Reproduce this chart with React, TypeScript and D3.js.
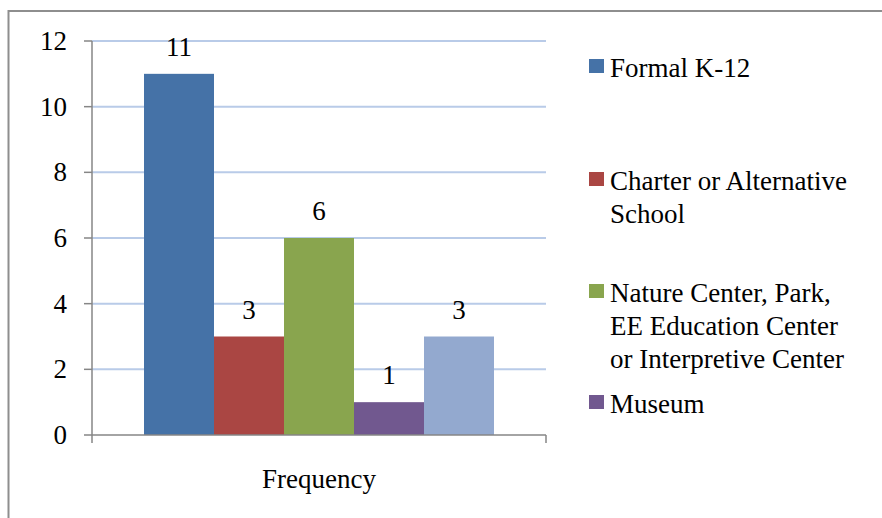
import * as d3 from 'd3';
import React, { useEffect, useRef } from 'react';

const categories = [
  'Formal K-12',
  'Charter or Alternative School',
  'Nature Center, Park, EE Education Center or Interpretive Center',
  'Museum',
  'Other',
];
const values = [11, 3, 6, 1, 3];
const colors = ['#4572A7', '#AA4643', '#89A54E', '#71588F', '#93A9CF'];
const yTicks = [0, 2, 4, 6, 8, 10, 12];
const xLabel = 'Frequency';

// legend is cut off in the source after the fourth entry
const legendLines = [
  ['Formal K-12'],
  ['Charter or Alternative', 'School'],
  ['Nature Center, Park,', 'EE Education Center', 'or Interpretive Center'],
  ['Museum'],
];
const legendBaselines = [77, 190, 302, 413];

const W = 882;
const H = 518;

const App: React.FC = () => {
  const ref = useRef<SVGSVGElement | null>(null);

  useEffect(() => {
    if (!ref.current) return;
    document.body.style.margin = '0';
    const svg = d3.select(ref.current);
    svg.selectAll('*').remove();

    const left = 92;
    const right = 546;
    const top = 41;
    const bottom = 435;

    const y = d3.scaleLinear().domain([0, 12]).range([bottom, top]);
    const x = d3
      .scaleBand<number>()
      .domain(d3.range(values.length))
      .range([left + 52, right - 52]);

    svg.append('rect').attr('width', W).attr('height', H).attr('fill', '#fff');

    // outer frame, right/bottom edges are off the picture
    svg
      .append('path')
      .attr('d', `M8.5,${H} V11 H${W}`)
      .attr('fill', 'none')
      .attr('stroke', '#8e8e8e')
      .attr('stroke-width', 2);

    svg
      .selectAll('line.grid')
      .data(yTicks.filter((t) => t > 0))
      .enter()
      .append('line')
      .attr('x1', left)
      .attr('x2', right)
      .attr('y1', (d) => y(d))
      .attr('y2', (d) => y(d))
      .attr('stroke', '#b9cbe8')
      .attr('stroke-width', 2);

    const g = svg.append('g').attr('font-family', 'Times New Roman').attr('font-size', 27);

    g.selectAll('line.tick')
      .data(yTicks)
      .enter()
      .append('line')
      .attr('x1', left - 8)
      .attr('x2', left)
      .attr('y1', (d) => y(d))
      .attr('y2', (d) => y(d))
      .attr('stroke', '#868686')
      .attr('stroke-width', 1.5);

    g.selectAll('text.tick')
      .data(yTicks)
      .enter()
      .append('text')
      .attr('x', 67)
      .attr('y', (d) => y(d) + 9)
      .attr('text-anchor', 'end')
      .text((d) => d);

    g.selectAll('rect.bar')
      .data(values)
      .enter()
      .append('rect')
      .attr('x', (_, i) => x(i) ?? 0)
      .attr('y', (d) => y(d))
      .attr('width', x.bandwidth())
      .attr('height', (d) => y(0) - y(d))
      .attr('fill', (_, i) => colors[i]);

    g.selectAll('text.val')
      .data(values)
      .enter()
      .append('text')
      .attr('x', (_, i) => (x(i) ?? 0) + x.bandwidth() / 2)
      .attr('y', (d) => y(d) - 18)
      .attr('text-anchor', 'middle')
      .text((d) => d);

    const axis = [
      [left, top, left, bottom + 8],
      [left, bottom, right, bottom],
      [right, bottom, right, bottom + 8],
    ];
    g.selectAll('line.axis')
      .data(axis)
      .enter()
      .append('line')
      .attr('x1', (d) => d[0])
      .attr('y1', (d) => d[1])
      .attr('x2', (d) => d[2])
      .attr('y2', (d) => d[3])
      .attr('stroke', '#868686')
      .attr('stroke-width', 1.5);

    g.append('text')
      .attr('x', (left + right) / 2)
      .attr('y', 488)
      .attr('text-anchor', 'middle')
      .text(xLabel);

    legendLines.forEach((lines, i) => {
      g.append('rect')
        .attr('x', 589)
        .attr('y', legendBaselines[i] - 18)
        .attr('width', 15)
        .attr('height', 14)
        .attr('fill', colors[i]);
      lines.forEach((ln, j) => {
        g.append('text')
          .attr('x', 610)
          .attr('y', legendBaselines[i] + j * 33)
          .text(ln);
      });
    });
  }, []);

  return <svg ref={ref} width={W} height={H} style={{ display: 'block' }} data-n={categories.length} />;
};

export default App;
